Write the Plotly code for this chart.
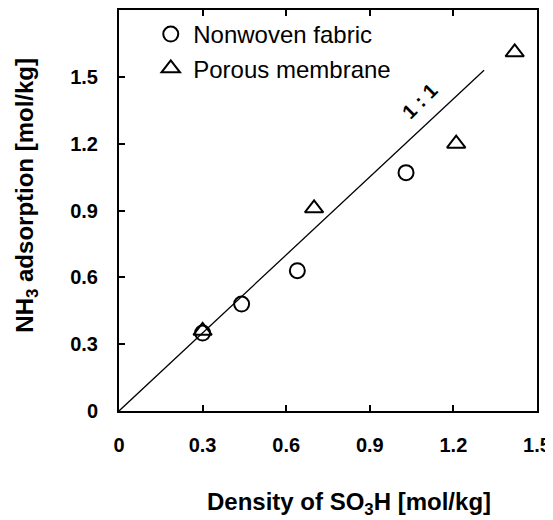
import plotly.graph_objects as go

# Data
nonwoven_x = [0.30, 0.44, 0.64, 1.03]
nonwoven_y = [0.35, 0.48, 0.63, 1.07]
porous_x = [0.30, 0.70, 1.21, 1.42]
porous_y = [0.36, 0.91, 1.20, 1.61]
line_x = [0.0, 1.31]
line_y = [0.0, 1.53]
tick_vals = [0, 0.3, 0.6, 0.9, 1.2, 1.5]
tick_text = ["0", "0.3", "0.6", "0.9", "1.2", "1.5"]

FONT = "Liberation Sans, Arial, sans-serif"

fig = go.Figure()
fig.add_trace(go.Scatter(x=line_x, y=line_y, mode="lines",
                         line=dict(color="black", width=1.3), showlegend=False))
fig.add_trace(go.Scatter(x=nonwoven_x, y=nonwoven_y, mode="markers", name="Nonwoven fabric",
                         marker=dict(symbol="circle-open", size=15, color="black",
                                     line=dict(width=2, color="black"))))
fig.add_trace(go.Scatter(x=porous_x, y=porous_y, mode="markers", name="Porous membrane",
                         marker=dict(symbol="triangle-up-open", size=16, color="black",
                                     line=dict(width=2, color="black"))))

axis_common = dict(
    showline=True, linecolor="black", linewidth=2, mirror="ticks",
    ticks="inside", ticklen=6, tickwidth=1.5, tickcolor="black",
    showgrid=False, zeroline=False,
    tickvals=tick_vals, ticktext=tick_text,
    tickfont=dict(family=FONT, size=20, color="black", weight="bold"),
)

# The page body has an 8px margin, so the figure is sized to fit the 553x520 window
fig.update_layout(
    width=545, height=512,
    margin=dict(l=111, r=16, t=0, b=109),
    paper_bgcolor="white", plot_bgcolor="white",
    xaxis=dict(range=[0, 1.5], ticklabelstandoff=15, **axis_common),
    yaxis=dict(range=[0, 1.8], ticklabelstandoff=15, **axis_common),
    legend=dict(x=0.07, y=0.995, xanchor="left", yanchor="top",
                bgcolor="rgba(0,0,0,0)", borderwidth=0, itemwidth=35,
                font=dict(family=FONT, size=24, color="black")),
    showlegend=True,
)
fig.update_yaxes(mirror=True)

fig.add_annotation(text="Density of SO<sub>3</sub>H [mol/kg]", xref="paper", yref="paper",
                   x=0.55, y=0, yshift=-92, showarrow=False, yanchor="middle",
                   font=dict(family=FONT, size=24, color="black", weight="bold"))
fig.add_annotation(text="NH<sub>3</sub> adsorption [mol/kg]", xref="paper", yref="paper",
                   x=0, y=0.537, xshift=-92, showarrow=False, textangle=-90, xanchor="center",
                   font=dict(family=FONT, size=24, color="black", weight="bold"))
fig.add_annotation(text="1 : 1", x=1.08, y=1.39, showarrow=False, textangle=-45,
                   font=dict(family=FONT, size=20, color="black", weight="bold"))

fig.write_html("out.html")
